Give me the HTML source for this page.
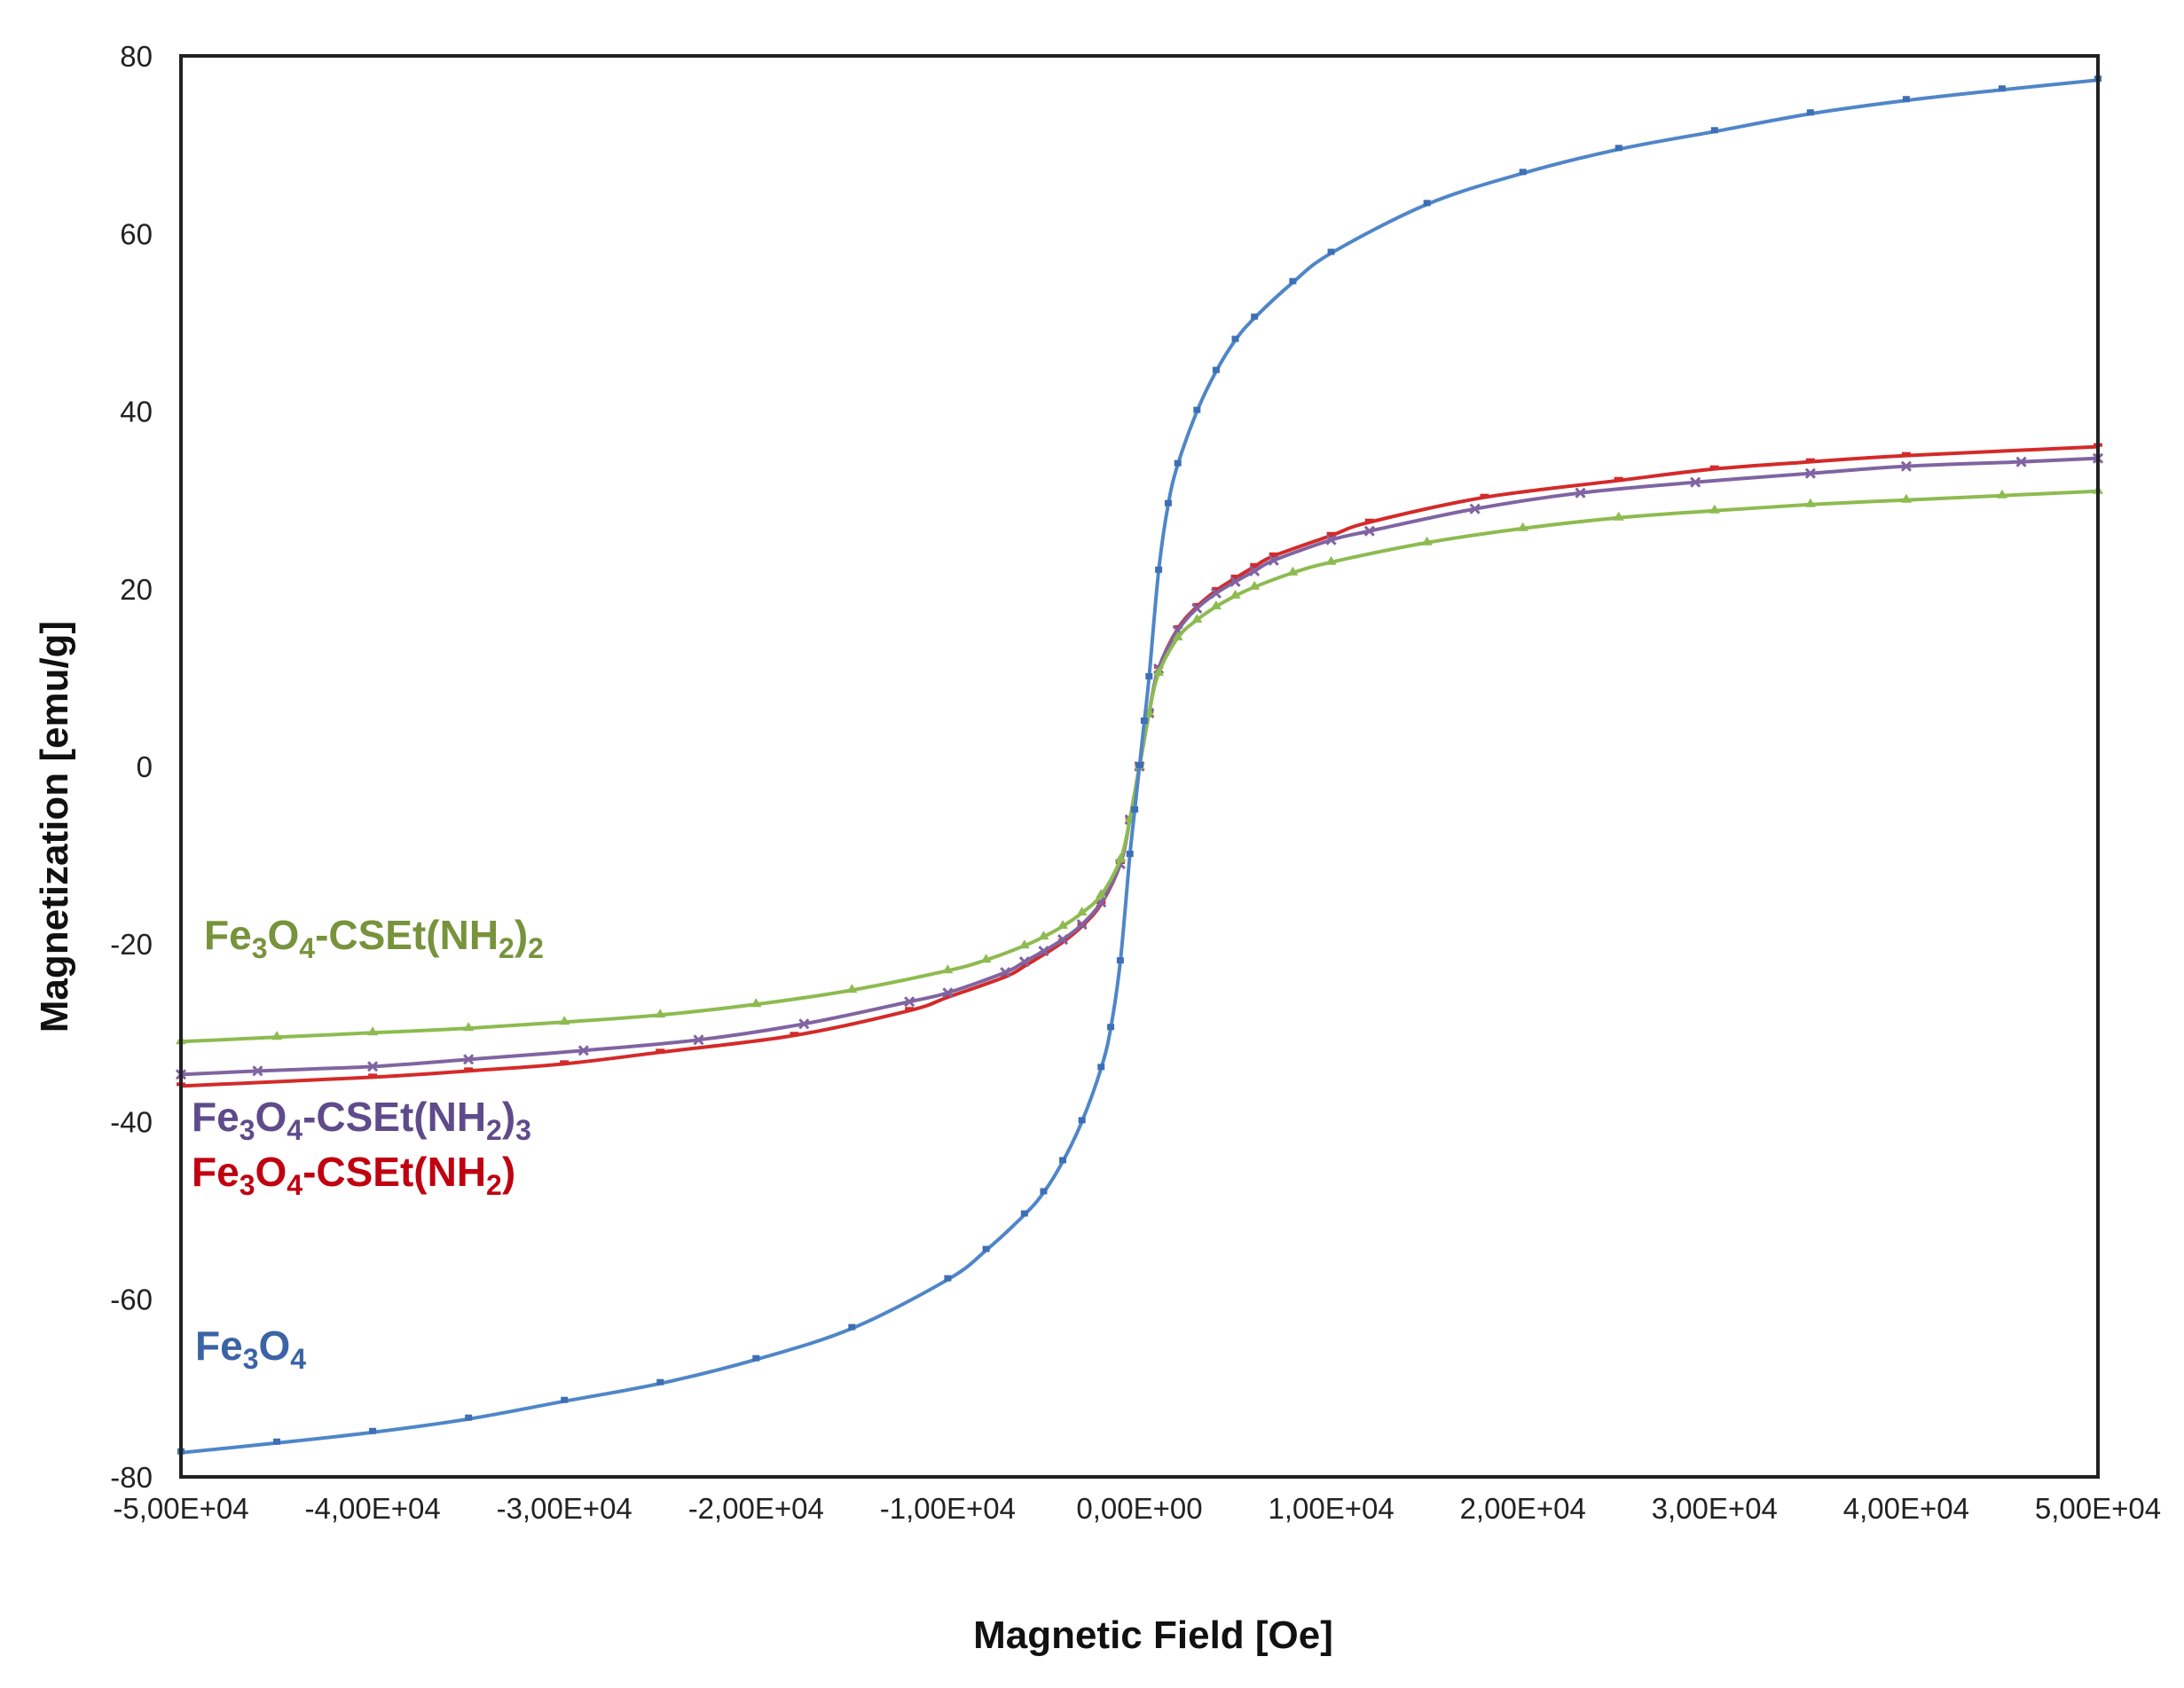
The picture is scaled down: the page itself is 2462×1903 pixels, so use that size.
<!DOCTYPE html>
<html><head><meta charset="utf-8"><style>
html,body{margin:0;padding:0;background:#fff;}
svg{display:block;}
text{font-family:"Liberation Sans",Arial,sans-serif;}
</style></head><body>
<svg id="s" width="2462" height="1903" xmlns="http://www.w3.org/2000/svg">
<rect x="0" y="0" width="2462" height="1903" fill="#fff"/>
<g id="curves"></g>
<rect x="204" y="63" width="2161" height="1602" fill="none" stroke="#222" stroke-width="4"/>
<g font-size="33" fill="#222" text-anchor="end" id="yt"></g>
<g font-size="33" fill="#222" text-anchor="middle" id="xt"></g>
<text x="1300" y="1858" font-size="44" font-weight="bold" text-anchor="middle" fill="#111">Magnetic Field [Oe]</text>
<text transform="translate(76,932) rotate(-90)" font-size="44" font-weight="bold" text-anchor="middle" fill="#111">Magnetization [emu/g]</text>
<g font-size="46" font-weight="bold">
<text x="230" y="1070" fill="#77933c">Fe<tspan font-size="32" dy="10">3</tspan><tspan dy="-10">O</tspan><tspan font-size="32" dy="10">4</tspan><tspan dy="-10">-CSEt(NH</tspan><tspan font-size="32" dy="10">2</tspan><tspan dy="-10">)</tspan><tspan font-size="32" dy="10">2</tspan></text>
<text x="216" y="1275" fill="#5f4b8b">Fe<tspan font-size="32" dy="10">3</tspan><tspan dy="-10">O</tspan><tspan font-size="32" dy="10">4</tspan><tspan dy="-10">-CSEt(NH</tspan><tspan font-size="32" dy="10">2</tspan><tspan dy="-10">)</tspan><tspan font-size="32" dy="10">3</tspan></text>
<text x="216" y="1337" fill="#c00010">Fe<tspan font-size="32" dy="10">3</tspan><tspan dy="-10">O</tspan><tspan font-size="32" dy="10">4</tspan><tspan dy="-10">-CSEt(NH</tspan><tspan font-size="32" dy="10">2</tspan><tspan dy="-10">)</tspan></text>
<text x="220" y="1533" fill="#3b63a5">Fe<tspan font-size="32" dy="10">3</tspan><tspan dy="-10">O</tspan><tspan font-size="32" dy="10">4</tspan></text>
</g>
</svg>
<script>
var NS="http://www.w3.org/2000/svg";
function X(h){return 1284.5+h/1e4*216.1;}
function Y(m){return 864-m*10.01;}
var yt=document.getElementById('yt');
for(var v=-80;v<=80;v+=20){var t=document.createElementNS(NS,'text');t.setAttribute('x',172);t.setAttribute('y',Y(v)+12);t.textContent=v;yt.appendChild(t);}
var xt=document.getElementById('xt');
for(var k=-5;k<=5;k++){var t=document.createElementNS(NS,'text');t.setAttribute('x',X(k*1e4));t.setAttribute('y',1712);t.textContent=(k==0?'0,00E+00':(k<0?'-':'')+Math.abs(k)+',00E+04');xt.appendChild(t);}
var S=[
{c:'#d42a2a',m:'dash',p:[[0,0],[500,6],[1000,11],[2000,15.5],[3000,18],[4000,19.8],[5000,21.2],[6000,22.5],[7000,23.7],[10000,26],[12000,27.5],[18000,30.3],[25000,32.2],[30000,33.5],[35000,34.3],[40000,35],[50000,36]]},
{c:'#8064a2',m:'x',p:[[0,0],[500,6],[1000,11],[2000,15.3],[3000,17.8],[4000,19.5],[5000,20.8],[6000,22],[7000,23.2],[10000,25.5],[12000,26.5],[17500,29],[23000,30.8],[29000,32],[35000,33],[40000,33.8],[46000,34.3],[50000,34.7]]},
{c:'#8dbb50',m:'tri',p:[[0,0],[500,6],[1000,10.5],[2000,14.5],[3000,16.5],[4000,18],[5000,19.2],[6000,20.2],[8000,21.8],[10000,23],[15000,25.2],[20000,26.8],[25000,28],[30000,28.8],[35000,29.5],[40000,30],[45000,30.5],[50000,31]]},
{c:'#4f86c8',m:'dot',p:[[0,0],[250,5],[500,10],[1000,22],[1500,29.5],[2000,34],[3000,40],[4000,44.5],[5000,48],[6000,50.5],[8000,54.5],[10000,57.8],[15000,63.3],[20000,66.8],[25000,69.5],[30000,71.5],[35000,73.5],[40000,75],[45000,76.2],[50000,77.3]]}
];
var g=document.getElementById('curves');
S.forEach(function(s){
 var pts=[];for(var i=s.p.length-1;i>0;i--)pts.push([-s.p[i][0],-s.p[i][1]]);pts=pts.concat(s.p);
 var P=pts.map(function(q){return [X(q[0]),Y(q[1])];});
 var d='M'+P[0][0]+','+P[0][1];
 for(var i=0;i<P.length-1;i++){var p0=P[Math.max(0,i-1)],p1=P[i],p2=P[i+1],p3=P[Math.min(P.length-1,i+2)];
  d+=' C'+(p1[0]+(p2[0]-p0[0])/6)+','+(p1[1]+(p2[1]-p0[1])/6)+' '+(p2[0]-(p3[0]-p1[0])/6)+','+(p2[1]-(p3[1]-p1[1])/6)+' '+p2[0]+','+p2[1];}
 var pa=document.createElementNS(NS,'path');pa.setAttribute('d',d);pa.setAttribute('fill','none');pa.setAttribute('stroke',s.c);pa.setAttribute('stroke-width',4);g.appendChild(pa);
 P.forEach(function(q){var e;
  if(s.m=='x'){e=document.createElementNS(NS,'path');e.setAttribute('d','M'+(q[0]-5)+','+(q[1]-5)+'l10,10m0,-10l-10,10');e.setAttribute('stroke',s.c);e.setAttribute('stroke-width',3);}
  else if(s.m=='tri'){e=document.createElementNS(NS,'path');e.setAttribute('d','M'+q[0]+','+(q[1]-7)+'l6,10h-12z');e.setAttribute('fill',s.c);}
  else if(s.m=='dash'){e=document.createElementNS(NS,'rect');e.setAttribute('x',q[0]-5);e.setAttribute('y',q[1]-4);e.setAttribute('width',10);e.setAttribute('height',4);e.setAttribute('fill',s.c);}
  else {e=document.createElementNS(NS,'rect');e.setAttribute('x',q[0]-4);e.setAttribute('y',q[1]-5);e.setAttribute('width',8);e.setAttribute('height',7);e.setAttribute('fill','#3d6fb5');}
  g.appendChild(e);});
});
</script>
</body></html>
